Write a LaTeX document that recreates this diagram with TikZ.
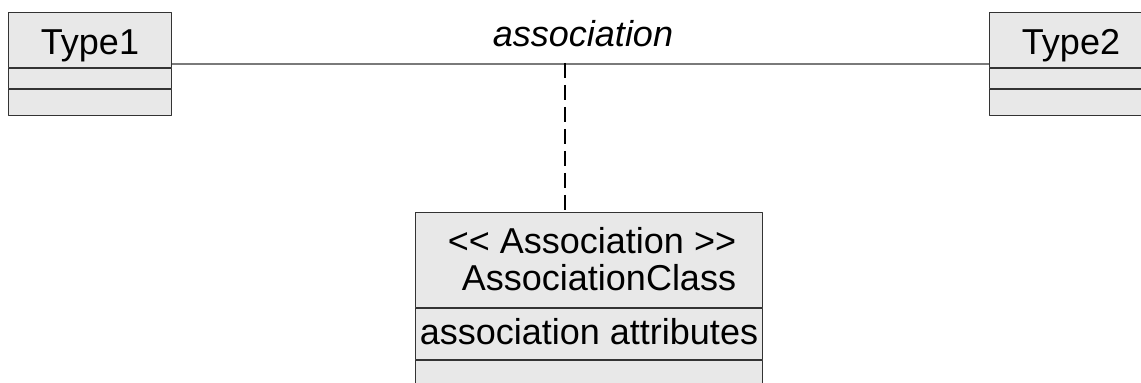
\documentclass[tikz,border=0pt]{standalone}
\usepackage{fontspec}
\setmainfont{Liberation Sans}
\usetikzlibrary{positioning}
\definecolor{boxfill}{HTML}{E8E8E8}
\definecolor{boxline}{HTML}{333333}
\definecolor{assocline}{HTML}{7A7A7A}
\begin{document}
\begin{tikzpicture}[x=1pt, y=1pt, line join=round, font=\fontsize{36}{40}\selectfont,
	cls/.style={draw=boxline, fill=boxfill, line width=1pt, inner sep=0pt, anchor=north west},
	txt/.style={anchor=base, inner sep=0pt}]
	\useasboundingbox (0,0) rectangle (1141,383);
	\clip (0,0) rectangle (1141,383);
	% Type1
	\node[cls, minimum width=163pt, minimum height=55pt] (type1) at (8,371) {};
	\node[cls, minimum width=163pt, minimum height=20pt] (type1a) at (type1.south west) {};
	\node[cls, minimum width=163pt, minimum height=26pt] (type1o) at (type1a.south west) {};
	\node[txt] (type1t) at ([yshift=-43pt]type1.north) {Type1};
	% Type2
	\node[cls, minimum width=163pt, minimum height=55pt] (type2) at (989,371) {};
	\node[cls, minimum width=163pt, minimum height=20pt] (type2a) at (type2.south west) {};
	\node[cls, minimum width=163pt, minimum height=26pt] (type2o) at (type2a.south west) {};
	\node[txt] (type2t) at ([yshift=-43pt]type2.north) {Type2};
	% association class
	\node[cls, minimum width=347pt, minimum height=95pt] (acls) at (415,171) {};
	\node[cls, minimum width=347pt, minimum height=51pt] (aclsa) at (acls.south west) {};
	\node[cls, minimum width=347pt, minimum height=40pt] (aclso) at (aclsa.south west) {};
	\node[txt] (stereo) at ([xshift=3pt, yshift=-42pt]acls.north) {<\kern0pt< Association >\kern0pt>};
	\node[txt] (aname) at ([xshift=10pt, yshift=-79pt]acls.north) {AssociationClass};
	\node[txt] (aattr) at ([yshift=-37pt]aclsa.north) {association attributes};
	% association line
	\coordinate (mid) at (565,320);
	\draw[assocline, line width=1.3pt] ([yshift=4pt]type1.south east) -- ([yshift=4pt]type2.south west);
	\node[txt, font=\fontsize{36}{40}\selectfont\itshape] (alabel) at (583,336) {association};
	\draw[line width=1.5pt, dash pattern=on 15pt off 7pt] (mid) -- (acls.north -| mid);
\end{tikzpicture}
\end{document}
